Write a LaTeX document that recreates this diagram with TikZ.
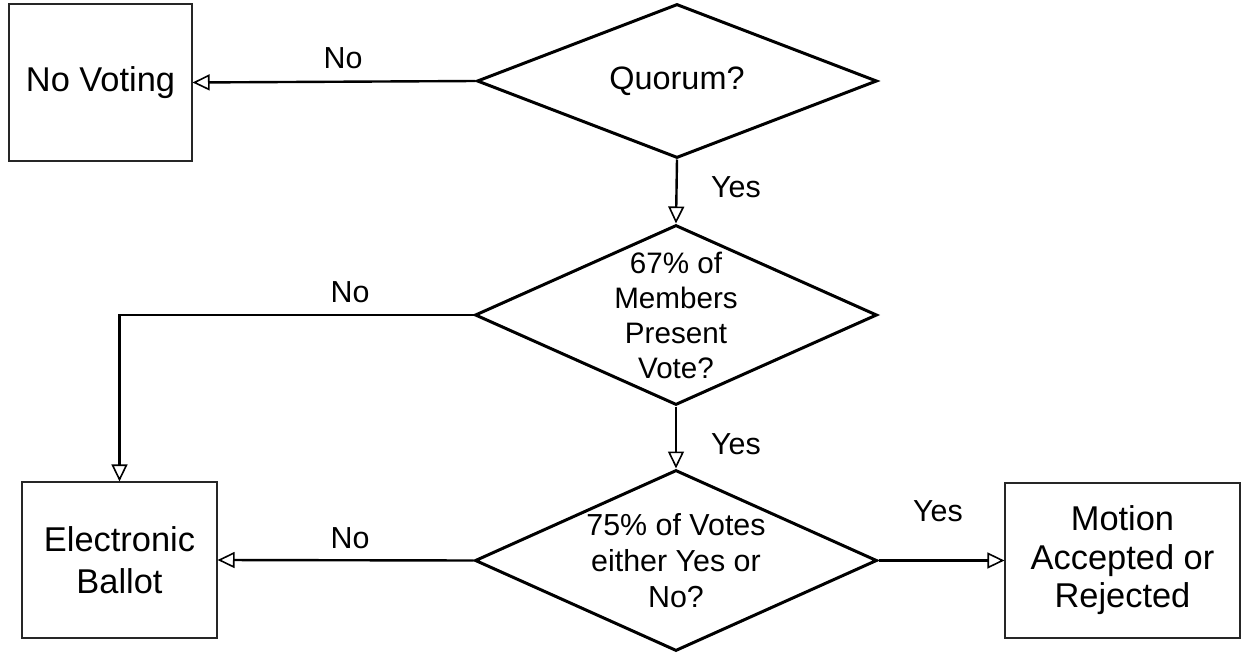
\documentclass[tikz,border=0pt]{standalone}
\usepackage{fontspec}
\setmainfont{Liberation Sans}
\usetikzlibrary{shapes.geometric,arrows.meta}
\tikzset{
  box/.style={draw=black!85, line width=0.6pt, rectangle, inner sep=0pt, align=center},
  decision/.style={draw=black, line width=1.5pt, diamond, inner sep=0pt},
  dtext/.style={align=center, inner sep=0pt},
  conn/.style={line width=1.2pt, -{Triangle[open,length=8.5pt,width=8pt,line width=0.8pt]}},
  lbl/.style={inner sep=0pt, font=\fontsize{15.2}{18}\selectfont},
}
\begin{document}
\begin{tikzpicture}[x=0.5pt,y=-0.5pt]
\useasboundingbox[fill=white] (0,0) rectangle (1250,653);
% boxes
\node[box, minimum width=91.5pt, minimum height=78.5pt, font=\fontsize{17.2}{21}\selectfont] (novote) at (100.5,82.5) {No Voting};
\node[box, minimum width=97.5pt, minimum height=78pt, font=\fontsize{17.2}{20.8}\selectfont] (ballot) at (119.5,560) {Electronic\\Ballot};
\node[box, minimum width=117.5pt, minimum height=77.5pt, font=\fontsize{17.2}{19.2}\selectfont] (motion) at (1122.5,560.5) {Motion\\Accepted or\\Rejected};
% decisions
\node[decision, minimum width=200pt, minimum height=77pt] (q1) at (677,81) {};
\node[dtext, font=\fontsize{16.2}{20}\selectfont] (q1t) at (q1.center) {Quorum?};
\node[decision, minimum width=201pt, minimum height=90pt] (q2) at (676,315) {};
\node[dtext, font=\fontsize{14.8}{17.5}\selectfont] (q2t) at (q2.center) {67\% of\\Members\\Present\\Vote?};
\node[decision, minimum width=201pt, minimum height=90.5pt] (q3) at (676,560.5) {};
\node[dtext, font=\fontsize{15.2}{18}\selectfont] (q3t) at (q3.center) {75\% of Votes\\either Yes or\\No?};
% connectors
\draw[conn] (q1.west) -- (novote.east);
\draw[conn] (q1.south) -- (q2.north);
\draw[conn] (q2.west) -| (ballot.north);
\draw[conn] (q2.south) -- (q3.north);
\draw[conn] (q3.west) -- (ballot.east);
\draw[conn] (q3.east) -- (motion.west);
% labels
\node[lbl] (l1) at (343,58) {No};
\node[lbl] (l2) at (736,187) {Yes};
\node[lbl] (l3) at (350,292) {No};
\node[lbl] (l4) at (736,444) {Yes};
\node[lbl] (l5) at (350,538) {No};
\node[lbl] (l6) at (938,511) {Yes};
\end{tikzpicture}
\end{document}
